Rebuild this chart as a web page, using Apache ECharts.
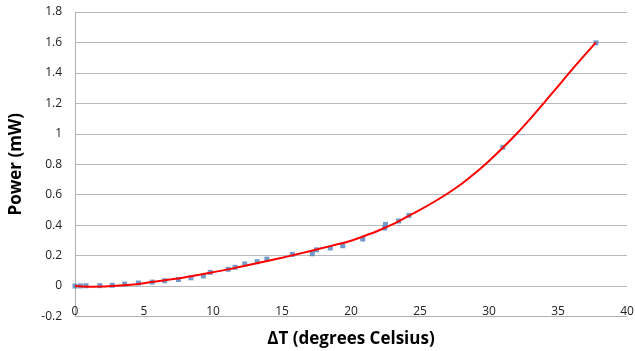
<!DOCTYPE html>
<html>
<head>
<meta charset="utf-8">
<script src="https://cdn.jsdelivr.net/npm/echarts@6/dist/echarts.min.js"></script>
<style>html,body{margin:0;padding:0;background:#fff}#c{width:635px;height:351px}</style>
</head>
<body>
<div id="c"></div>
<script>
// Measured data points (ΔT in °C, Power in mW)
var deltaT = [0, 0.4, 0.8, 1.8, 2.7, 3.6, 4.6, 5.6, 6.5, 7.5, 8.4, 9.3, 9.8, 11.1, 11.6, 12.3, 13.2, 13.9, 15.75, 17.2, 17.5, 18.5, 19.4, 20.85, 22.45, 22.5, 23.45, 24.2, 31.0, 37.75];
var power = [0, 0.001, 0.002, 0.003, 0.005, 0.013, 0.02, 0.026, 0.035, 0.043, 0.054, 0.066, 0.09, 0.11, 0.123, 0.145, 0.16, 0.177, 0.208, 0.212, 0.238, 0.25, 0.265, 0.309, 0.381, 0.405, 0.427, 0.464, 0.911, 1.597];
// Trend line
var trendT = [0, 1, 2, 3, 4, 5, 6, 7, 8, 9, 10, 11, 12, 13, 14, 15, 16, 17, 18, 19, 20, 21, 22, 23, 24, 25, 26, 27, 28, 29, 30, 31, 32, 33, 34, 35, 36, 37.75];
var trendP = [0, -0.004, -0.003, 0.002, 0.009, 0.019, 0.031, 0.044, 0.058, 0.074, 0.091, 0.108, 0.127, 0.146, 0.166, 0.186, 0.207, 0.229, 0.251, 0.274, 0.298, 0.330, 0.365, 0.405, 0.452, 0.500, 0.552, 0.608, 0.670, 0.742, 0.822, 0.908, 1.000, 1.100, 1.205, 1.312, 1.420, 1.600];
var xTicks = [0, 40, 5];
var yTicks = [-0.2, 1.8, 0.2];

var font = 'Open Sans';
var chart = echarts.init(document.getElementById('c'), null, {renderer: 'canvas'});
chart.setOption({
  animation: false,
  grid: {left: 75, right: 8, top: 12, bottom: 34.5, containLabel: false, outerBoundsMode: 'none'},
  xAxis: {
    type: 'value', min: xTicks[0], max: xTicks[1], interval: xTicks[2],
    name: 'ΔT (degrees Celsius)', nameLocation: 'middle', nameGap: 14,
    nameTextStyle: {fontFamily: font, fontWeight: 'bold', fontSize: 17, color: '#000'},
    axisLine: {onZero: false, lineStyle: {color: '#b0b0b0', width: 1}},
    axisTick: {show: false},
    axisLabel: {margin: -11, fontFamily: font, fontSize: 12, color: '#222'},
    splitLine: {show: false}
  },
  yAxis: {
    type: 'value', min: yTicks[0], max: yTicks[1], interval: yTicks[2],
    name: 'Power (mW)', nameLocation: 'middle', nameGap: 50, nameRotate: 90,
    nameTextStyle: {fontFamily: font, fontWeight: 'bold', fontSize: 17, color: '#000'},
    axisLine: {show: true, lineStyle: {color: '#b0b0b0', width: 1}},
    axisTick: {show: false},
    axisLabel: {margin: 13, fontFamily: font, fontSize: 12, color: '#222',
      formatter: function (v) { return String(Math.round(v * 10) / 10); }},
    splitLine: {show: true, lineStyle: {color: '#b8b8b8', width: 1}}
  },
  series: [
    {
      type: 'scatter', symbol: 'rect', symbolSize: 5,
      itemStyle: {color: '#4f81bd'},
      data: deltaT.map(function (t, i) { return [t, power[i]]; }),
      z: 2
    },
    {
      type: 'line', smooth: 0.3, showSymbol: false,
      lineStyle: {color: '#ff0000', width: 2},
      data: trendT.map(function (t, i) { return [t, trendP[i]]; }),
      z: 3
    }
  ]
});
</script>
</body>
</html>
